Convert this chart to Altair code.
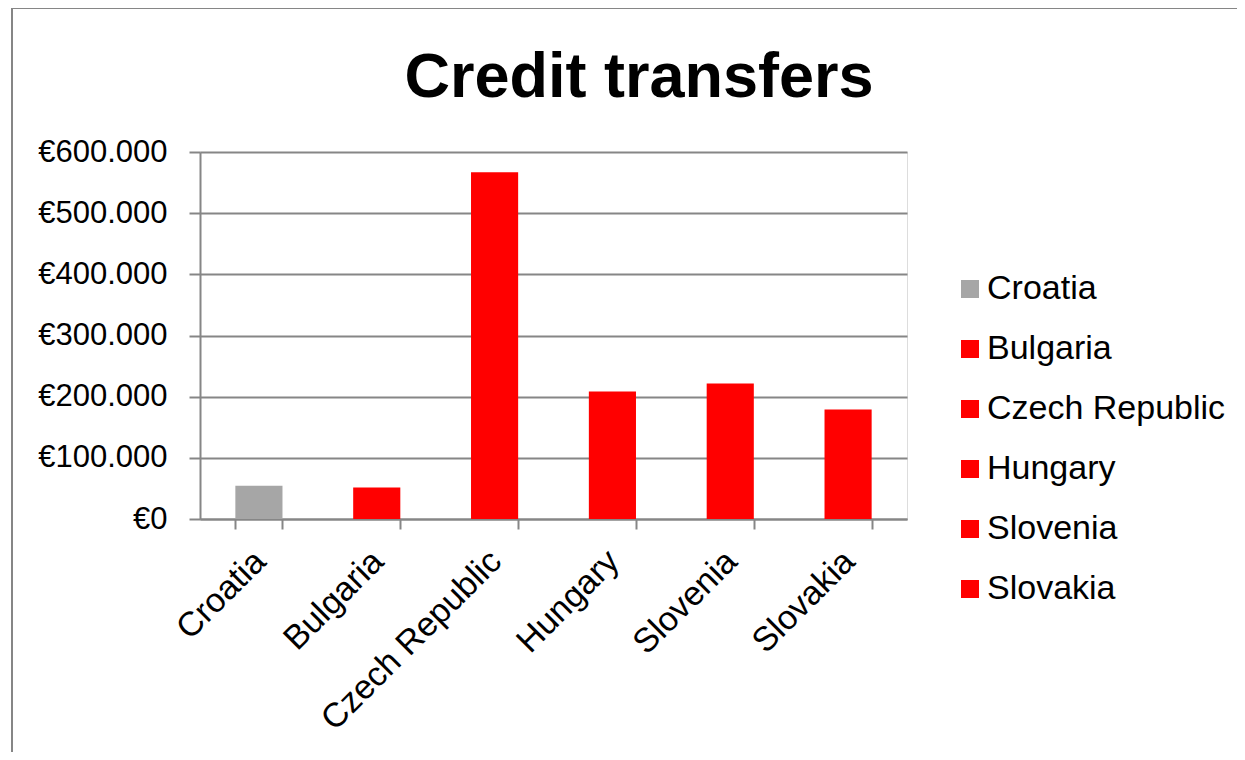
import altair as alt
import pandas as pd

countries = ["Croatia", "Bulgaria", "Czech Republic", "Hungary", "Slovenia", "Slovakia"]
values = [54500, 51500, 567000, 208500, 221500, 179000]
colors = ["#A6A6A6", "#FF0000", "#FF0000", "#FF0000", "#FF0000", "#FF0000"]
y_ticks = [0, 100000, 200000, 300000, 400000, 500000, 600000]
title_text = "Credit transfers"

df = pd.DataFrame({"country": countries, "value": values})

FONT = "Liberation Sans"

bars = alt.Chart(df).mark_bar().encode(
    x=alt.X(
        "country:N",
        sort=countries,
        title=None,
        scale=alt.Scale(paddingInner=0.6, paddingOuter=0.3),
        axis=alt.Axis(
            labelAngle=-45,
            labelFontSize=34,
            labelFont=FONT,
            labelColor="#000000",
            labelLimit=500,
            labelOffset=-11,
            tickBand="extent",
            tickSize=10,
            tickColor="#868686",
            tickWidth=2,
            domainColor="#868686",
            domainWidth=2,
            labelPadding=15,
            grid=False,
        ),
    ),
    y=alt.Y(
        "value:Q",
        title=None,
        scale=alt.Scale(domain=[0, 600000], nice=False),
        axis=alt.Axis(
            values=y_ticks,
            labelExpr="'€' + replace(format(datum.value, ','), ',', '.')",
            labelFontSize=31,
            labelFont=FONT,
            labelColor="#000000",
            tickSize=11,
            tickColor="#868686",
            tickWidth=2,
            domainColor="#868686",
            domainWidth=2,
            gridColor="#868686",
            gridWidth=2,
            labelPadding=22,
        ),
    ),
    color=alt.Color(
        "country:N",
        sort=countries,
        scale=alt.Scale(domain=countries, range=colors),
        legend=alt.Legend(
            title=None,
            orient="none",
            legendX=753,
            legendY=120,
            symbolType="square",
            symbolSize=324,
            symbolStrokeWidth=0,
            labelFontSize=34,
            labelFont=FONT,
            labelColor="#000000",
            labelOffset=0,
            rowPadding=26,
            padding=0,
            labelLimit=400,
        ),
    ),
)

frame = alt.Chart(pd.DataFrame({"a": [0]})).mark_rect(
    fill="transparent", stroke="#868686", strokeWidth=2
).encode(
    x=alt.value(-188), x2=alt.value(1060),
    y=alt.value(-144), y2=alt.value(620),
)

title = alt.Chart(pd.DataFrame({"t": [title_text]})).mark_text(
    font=FONT, fontSize=63, fontWeight="bold", color="#000000",
    align="center", baseline="alphabetic",
).encode(
    text="t:N",
    x=alt.value(439),
    y=alt.value(-55),
)

chart = alt.layer(frame, bars, title).properties(
    width=707,
    height=367,
    padding={"left": 192, "top": 144, "right": 330, "bottom": 233},
    autosize=alt.AutoSizeParams(type="none"),
).configure_view(stroke="transparent").configure(background="white")

chart.save("out.html", embed_options={"renderer": "svg", "actions": False})
